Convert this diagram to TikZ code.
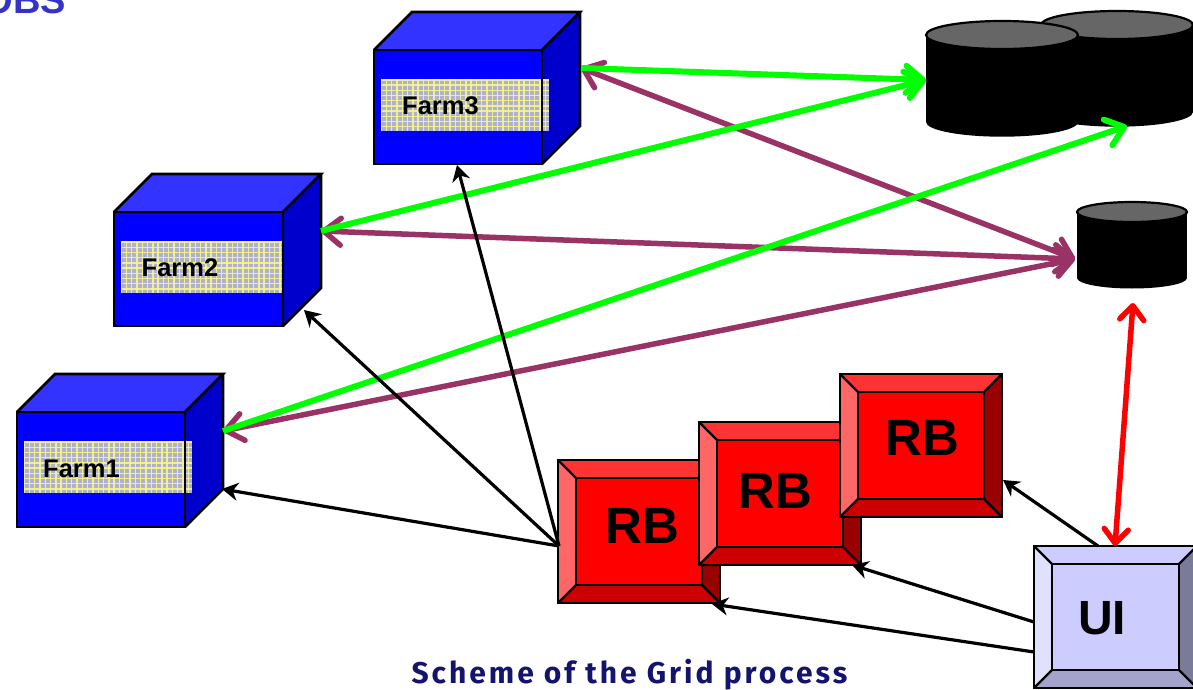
\documentclass[tikz,border=0pt]{standalone}
\usepackage{fontspec}
\setmainfont{Liberation Sans}
\newfontfamily\capfont[LetterSpace=10]{Fira Sans}
\usetikzlibrary{arrows.meta}
\definecolor{farmfront}{HTML}{0000FF}
\definecolor{farmtop}{HTML}{3333FF}
\definecolor{farmside}{HTML}{0000CC}
\definecolor{bandbase}{HTML}{B0B0D0}
\definecolor{bandline}{HTML}{F6F68C}
\definecolor{purp}{HTML}{993366}
\definecolor{grn}{HTML}{00FF00}
\definecolor{navy2}{HTML}{14146E}
\definecolor{ttl}{HTML}{3333CC}
\tikzset{
  edge/.style={draw=black,line width=2.7pt,line join=miter},
  farmlabel/.style={font=\bfseries\fontsize{25.5}{25.5}\selectfont,anchor=base,inner sep=0pt,text=black},
  bevlabel/.style={font=\bfseries\fontsize{51}{51}\selectfont,anchor=base,inner sep=0pt,text=black},
  greenarrow/.style={draw=grn,line width=6pt,-{Straight Barb[length=17pt,width=27pt,round,line width=6pt]}},
  purplearrow/.style={draw=purp,line width=5.5pt,{Straight Barb[length=17pt,width=27pt,round,line width=5.5pt]}-{Straight Barb[length=17pt,width=27pt,round,line width=5.5pt]}},
  redarrow/.style={draw=red,line width=5.5pt,{Straight Barb[length=14pt,width=24pt,round,line width=5.5pt]}-{Straight Barb[length=14pt,width=24pt,round,line width=5.5pt]}},
  blackarrow/.style={draw=black,line width=3.2pt,-{Stealth[length=16pt,width=18pt]}},
}
% farm box: front x1 y1 x2 y2, band right edge
\newcommand{\farmbox}[5]{%
  \fill[farmfront] (#1,#2) rectangle (#3,#4);
  \fill[farmtop] (#1,#2) -- (#1+38,#2-38) -- (#3+38,#2-38) -- (#3,#2) -- cycle;
  \fill[farmside] (#3,#2) -- (#3+38,#2-38) -- (#3+38,#4-38) -- (#3,#4) -- cycle;
  \fill[bandbase] (#1+7,#2+29) rectangle (#5,#2+81);
  \begin{scope}
    \clip (#1+7,#2+29) rectangle (#5,#2+81);
    \foreach \k in {0,5.3,...,168} {\draw[bandline,line width=1.4pt,opacity=.9] (#1+7+\k,#2+29) -- (#1+7+\k,#2+81);}
    \foreach \k in {1,6.2,...,52} {\draw[bandline,line width=1.4pt,opacity=.9] (#1+7,#2+29+\k) -- (#5,#2+29+\k);}
  \end{scope}
  \draw[edge] (#1,#2) rectangle (#3,#4);
  \draw[edge] (#1,#2) -- (#1+38,#2-38) -- (#3+38,#2-38) -- (#3,#2);
  \draw[edge] (#3+38,#2-38) -- (#3+38,#4-38) -- (#3,#4);
}
% bevel box: x1 y1 x2 y2, inset 18, colours centre top left bottom right
\newcommand{\bevelbox}[9]{%
  \fill[#6] (#1,#2) -- (#3,#2) -- (#3-18,#2+18) -- (#1+18,#2+18) -- cycle;
  \fill[#7] (#1,#2) -- (#1+18,#2+18) -- (#1+18,#4-18) -- (#1,#4) -- cycle;
  \fill[#8] (#1,#4) -- (#1+18,#4-18) -- (#3-18,#4-18) -- (#3,#4) -- cycle;
  \fill[#9] (#3,#2) -- (#3,#4) -- (#3-18,#4-18) -- (#3-18,#2+18) -- cycle;
  \fill[#5] (#1+18,#2+18) rectangle (#3-18,#4-18);
  \draw[edge] (#1,#2) rectangle (#3,#4);
  \draw[edge] (#1+18,#2+18) rectangle (#3-18,#4-18);
  \draw[edge,line width=2.2pt] (#1,#2) -- (#1+18,#2+18) (#3,#2) -- (#3-18,#2+18) (#1,#4) -- (#1+18,#4-18) (#3,#4) -- (#3-18,#4-18);
}
% cylinder: x1 x2 cy ry h
\newcommand{\cyl}[5]{%
  \fill[black] ({(#1+#2)/2},#3+#5) ellipse [x radius={(#2-#1)/2*1pt}, y radius=#4*1.05pt];
  \fill[black] (#1,#3) rectangle (#2,#3+#5);
  \draw[fill=black!60,draw=black,line width=2.2pt] ({(#1+#2)/2},#3) ellipse [x radius={(#2-#1)/2*1pt}, y radius=#4*1pt];
}
\begin{document}
\begin{tikzpicture}[x=1pt,y=-1pt]
\useasboundingbox (0,0) rectangle (1193,690);
\clip (0,0) rectangle (1193,690);
\fill[white] (0,0) rectangle (1193,690);

\node[anchor=base east,inner sep=0pt,text=ttl,font=\bfseries\fontsize{38}{38}\selectfont] (heading) at (66,14) {OBS};

\farmbox{17}{412}{185}{527}{192}
\node[farmlabel] (farm1) at (81.5,477) {Farm1};
\farmbox{114}{212}{283}{326}{283}
\node[farmlabel] (farm2) at (180,276) {Farm2};
\farmbox{374}{50}{542}{164}{549}
\node[farmlabel] (farm3) at (440.5,115) {Farm3};

\cyl{1041}{1193}{25}{14}{87}
\cyl{926}{1078}{35}{14}{87}
\cyl{1077}{1187}{212}{10}{66}

\bevelbox{558}{460}{720}{603}{red}{red!80!white}{red!60!white}{red!80!black}{red!60!black}
\node[bevlabel] (rb1) at (642,543) {RB};
\bevelbox{699}{422}{861}{565}{red}{red!80!white}{red!60!white}{red!80!black}{red!60!black}
\node[bevlabel] (rb2) at (775,508) {RB};
\bevelbox{840}{374}{1002}{517}{red}{red!80!white}{red!60!white}{red!80!black}{red!60!black}
\node[bevlabel] (rb3) at (922,455) {RB};
\definecolor{uic}{HTML}{CCCCFF}\definecolor{uil}{HTML}{E0E0FF}\definecolor{uib}{HTML}{A3A3CC}\definecolor{uir}{HTML}{7A7A99}
\bevelbox{1034}{546}{1197}{688}{uic}{uic}{uil}{uib}{uir}
\node[bevlabel,font=\bfseries\fontsize{48}{48}\selectfont] (ui) at (1102,634) {UI};

\node[anchor=base,inner sep=0pt,text=navy2,font=\capfont\bfseries\fontsize{30}{30}\selectfont] (caption) at (629.5,683) {Scheme of the Grid process};

% connector end points
\coordinate (f1r) at (223,431);
\coordinate (f1b) at (222,489);
\coordinate (f2r) at (321,231);
\coordinate (f2b) at (304,310);
\coordinate (f3r) at (581,68);
\coordinate (f3b) at (457,165);
\coordinate (dbbig) at (926,80);
\coordinate (dbbigb) at (1127,126);
\coordinate (dbsmall) at (1075,259);
\coordinate (dbsmallb) at (1133,303);
\coordinate (rb1l) at (559,546);
\coordinate (rb1b) at (712,604);
\coordinate (rb2b) at (852,565);
\coordinate (rb3r) at (1003,480);
\coordinate (uil1) at (1034,652);
\coordinate (uil2) at (1034,622);
\coordinate (uit1) at (1098,546);
\coordinate (uit2) at (1115,546);

\draw[purplearrow] (f3r) -- (dbsmall);
\draw[purplearrow] (f2r) -- (dbsmall);
\draw[purplearrow] (f1r) -- (dbsmall);
\draw[greenarrow] (f3r) -- (dbbig);
\draw[greenarrow] (f2r) -- (dbbig);
\draw[greenarrow] (f1r) -- (dbbigb);
\draw[redarrow] (uit2) -- (dbsmallb);
\draw[blackarrow] (rb1l) -- (f1b);
\draw[blackarrow] (rb1l) -- (f2b);
\draw[blackarrow] (rb1l) -- (f3b);
\draw[blackarrow] (uil1) -- (rb1b);
\draw[blackarrow] (uil2) -- (rb2b);
\draw[blackarrow] (uit1) -- (rb3r);
\end{tikzpicture}
\end{document}
